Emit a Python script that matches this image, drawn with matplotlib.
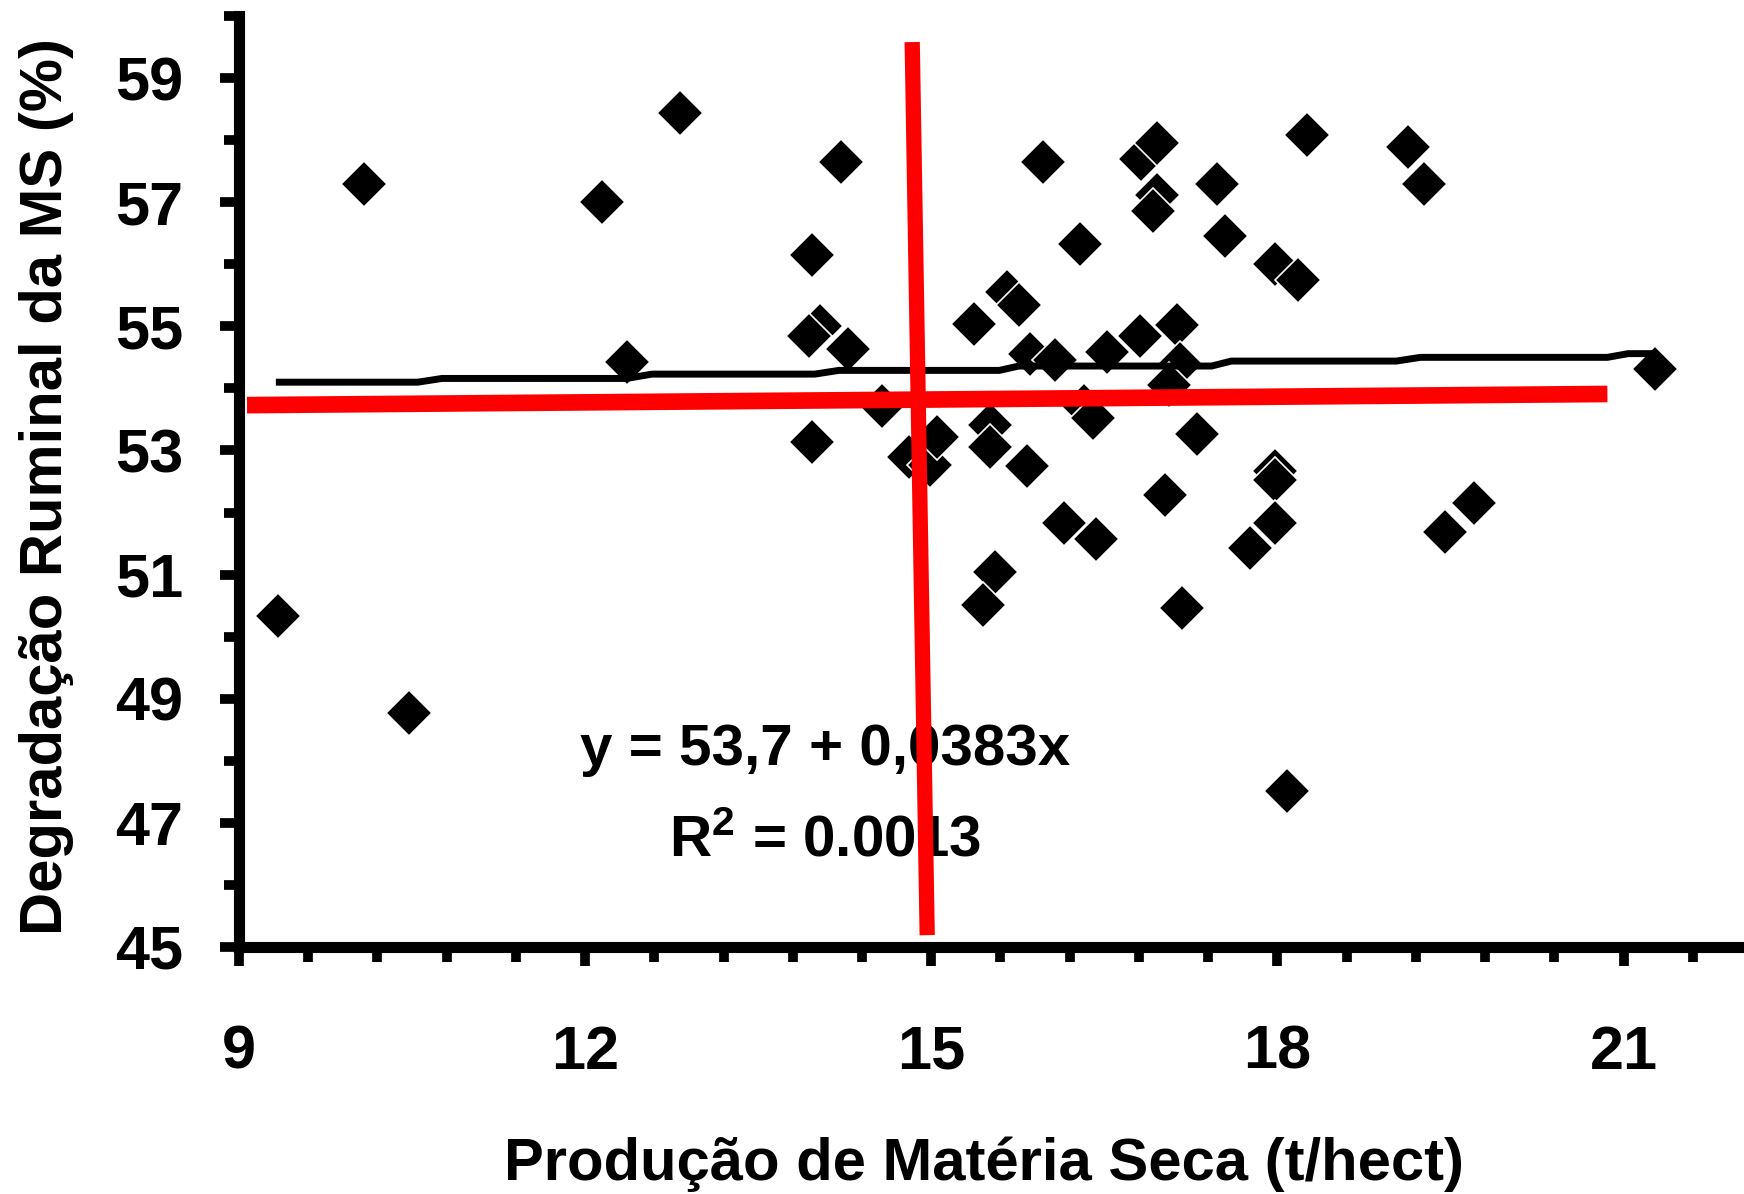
import matplotlib
matplotlib.use("Agg")
import matplotlib.pyplot as plt
from matplotlib.ticker import MultipleLocator

plt.rcParams['font.family'] = ['Liberation Sans', 'DejaVu Sans']
plt.rcParams['font.weight'] = 'bold'
plt.rcParams['mathtext.fontset'] = 'custom'
plt.rcParams['mathtext.rm'] = 'Liberation Sans:bold'
plt.rcParams['mathtext.bf'] = 'Liberation Sans:bold'

# dados (producao de MS x degradacao ruminal)
prod_ms = [9.34, 10.08, 10.47, 12.15, 12.36, 12.82, 13.97, 14.22, 14.04, 13.94,
           14.28, 13.97, 14.57, 14.81, 14.99, 15.05, 15.37, 15.51, 15.51, 15.55,
           15.45, 15.66, 15.76, 15.83, 15.97, 15.86, 16.07, 16.15, 16.29, 16.32,
           16.40, 16.43, 16.52, 16.81, 16.82, 16.96, 16.96, 16.92, 17.03, 17.13,
           17.16, 17.06, 17.30, 17.17, 17.48, 17.55, 17.76, 17.98, 18.18, 17.98,
           17.98, 17.98, 18.08, 18.26, 19.13, 19.27, 19.45, 19.70, 21.27]
degr_ms = [50.33, 57.30, 48.77, 57.00, 54.43, 58.43, 56.15, 57.64, 55.01, 54.84,
           54.63, 53.14, 53.72, 52.90, 52.77, 53.21, 55.04, 53.41, 53.06, 51.04,
           50.51, 55.55, 55.35, 52.75, 57.64, 54.56, 54.45, 51.83, 56.33, 53.72,
           53.53, 51.57, 54.59, 54.84, 57.69, 57.96, 57.11, 56.86, 52.28, 55.02,
           54.40, 54.05, 53.27, 50.46, 57.30, 56.45, 51.43, 56.00, 55.74, 52.67,
           52.53, 51.83, 47.51, 58.09, 57.89, 57.30, 51.69, 52.15, 54.31]

# linha ajustada (preta)
fit_x = [9.32, 10.55, 10.76, 12.36, 12.58, 13.99, 14.20, 15.59, 15.76, 17.43,
         17.60, 19.03, 19.24, 20.86, 21.04, 21.26]
fit_y = [54.10, 54.10, 54.16, 54.16, 54.23, 54.23, 54.29, 54.29, 54.36, 54.36,
         54.44, 54.44, 54.50, 54.50, 54.56, 54.56]

# linhas vermelhas
red_h_x = [9.07, 20.86]
red_h_y = [53.73, 53.91]
red_v_x = [14.835, 14.965]
red_v_y = [59.58, 45.19]

fig = plt.figure(figsize=(17.44, 11.94), dpi=100)
ax = fig.add_axes([0.137, 0.2069, 0.8601, 0.7797])

ax.plot(prod_ms, degr_ms, linestyle='none', marker='D', markersize=23.5,
        markerfacecolor='black', markeredgecolor='white', markeredgewidth=1.2,
        zorder=3)
ax.plot(fit_x, fit_y, color='black', linewidth=5, solid_capstyle='butt', zorder=4)
ax.plot(red_h_x, red_h_y, color='#ff0000', linewidth=12, solid_capstyle='butt', zorder=5)
ax.plot(red_v_x, red_v_y, color='#ff0000', linewidth=11, solid_capstyle='butt', zorder=5)

ax.text(14.08, 47.93, 'y = 53,7 + 0,0383x', fontsize=42, fontweight='bold',
        ha='center', va='baseline', zorder=4)
ax.text(14.08, 46.45, r'$\mathbf{R^2}$ = 0.0013', fontsize=42, fontweight='bold',
        ha='center', va='baseline', zorder=4)

ax.set_xlim(9, 22)
ax.set_ylim(45, 60)
ax.xaxis.set_major_locator(MultipleLocator(3))
ax.xaxis.set_minor_locator(MultipleLocator(0.6))
ax.yaxis.set_major_locator(MultipleLocator(2))
ax.yaxis.set_minor_locator(MultipleLocator(1))
ax.set_yticks([45, 47, 49, 51, 53, 55, 57, 59])

for side in ['top', 'right']:
    ax.spines[side].set_visible(False)
for side in ['left', 'bottom']:
    ax.spines[side].set_linewidth(8)

ax.tick_params(which='major', direction='out', length=14, width=7, labelsize=44)
ax.tick_params(which='minor', direction='out', length=11, width=7)
ax.tick_params(axis='y', which='major', pad=26)
ax.tick_params(axis='x', which='major', pad=42)
for lab in ax.get_xticklabels() + ax.get_yticklabels():
    lab.set_fontweight('bold')

ax.set_xlabel('Produção de Matéria Seca (t/hect)', fontsize=43, fontweight='bold')
ax.xaxis.label.set_va('baseline')
ax.xaxis.set_label_coords(0.497, -0.25)
ax.set_ylabel('Degradação Ruminal da MS (%)', fontsize=43, fontweight='bold')
ax.yaxis.label.set_va('baseline')
ax.yaxis.set_label_coords(-0.118, 0.495)

plt.savefig('out.png', dpi=100)
